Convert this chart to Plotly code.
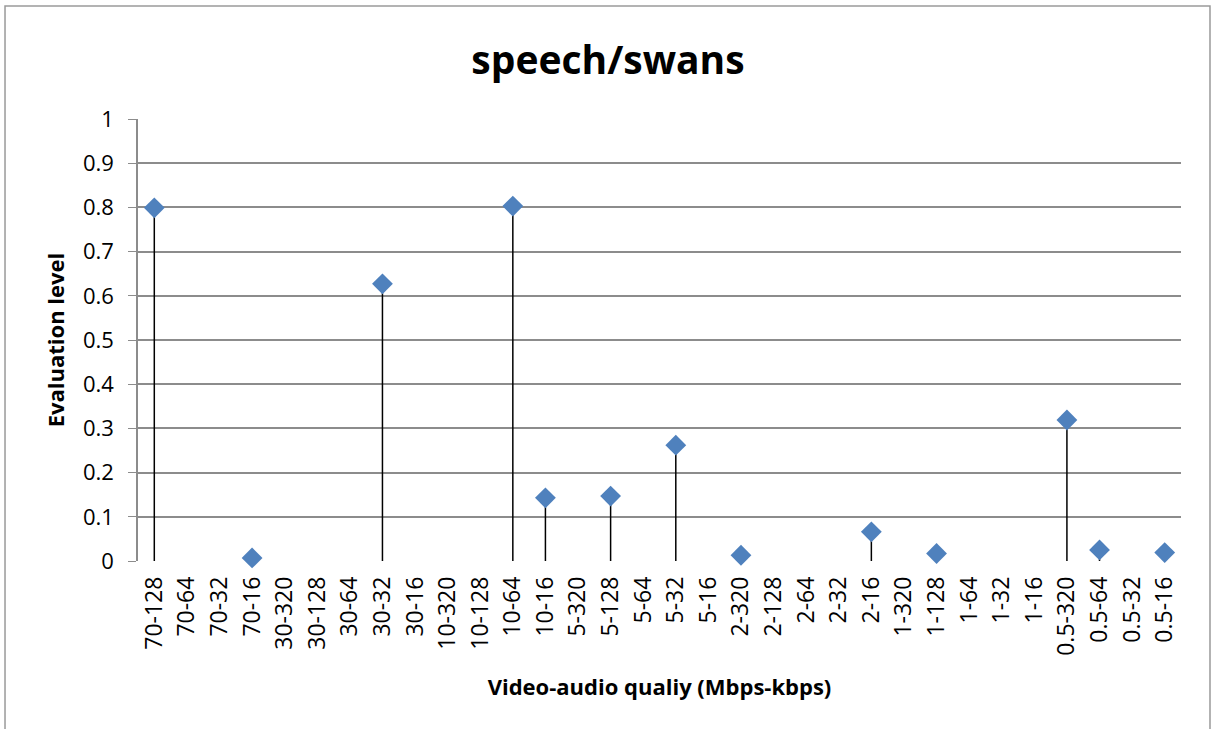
import plotly.graph_objects as go

categories = [
    "70-128", "70-64", "70-32", "70-16",
    "30-320", "30-128", "30-64", "30-32", "30-16",
    "10-320", "10-128", "10-64", "10-16",
    "5-320", "5-128", "5-64", "5-32", "5-16",
    "2-320", "2-128", "2-64", "2-32", "2-16",
    "1-320", "1-128", "1-64", "1-32", "1-16",
    "0.5-320", "0.5-64", "0.5-32", "0.5-16",
]
# None = no point for that setting
values = [
    0.799, None, None, 0.007,
    None, None, None, 0.627, None,
    None, None, 0.803, 0.143,
    None, 0.147, None, 0.262, None,
    0.013, None, None, None, 0.066,
    None, 0.017, None, None, None,
    0.319, 0.025, None, 0.019,
]
y_ticks = [0, 0.1, 0.2, 0.3, 0.4, 0.5, 0.6, 0.7, 0.8, 0.9, 1]

FONT = "Open Sans, Liberation Sans, sans-serif"
BLUE = "#4F81BD"
GRID = "#8c8c8c"

# drop lines from zero to each point
stem_x, stem_y = [], []
for c, v in zip(categories, values):
    if v is None:
        continue
    stem_x += [c, c, None]
    stem_y += [0, v, None]

fig = go.Figure()
fig.add_trace(go.Scatter(
    x=stem_x, y=stem_y, mode="lines",
    line=dict(color="black", width=1.5),
    hoverinfo="skip", showlegend=False,
))
fig.add_trace(go.Scatter(
    x=categories, y=values, mode="markers",
    marker=dict(symbol="diamond", size=16, color=BLUE),
    cliponaxis=False,
    showlegend=False,
))

fig.update_xaxes(
    type="category",
    categoryorder="array",
    categoryarray=categories,
    range=[-0.5, len(categories) - 0.5],
    tickangle=-90,
    tickfont=dict(family=FONT, size=23, color="black"),
    ticklabelstandoff=10,
    showgrid=False,
    showline=False,
    zeroline=False,
    ticks="",
    title=dict(text="<b>Video-audio qualiy (Mbps-kbps)</b>",
               font=dict(family=FONT, size=22, color="black"), standoff=24),
)
fig.update_yaxes(
    range=[0, 1],
    tickvals=y_ticks,
    ticktext=[f"{t:g}" for t in y_ticks],
    tickfont=dict(family=FONT, size=22, color="black"),
    ticklabelstandoff=10,
    showgrid=True, gridcolor=GRID, gridwidth=1.5,
    showline=True, linecolor=GRID, linewidth=1.5,
    ticks="outside", ticklen=8, tickcolor=GRID,
    zeroline=False,
    title=dict(text="<b>Evaluation level</b>",
               font=dict(family=FONT, size=22, color="black"), standoff=12),
)

fig.update_layout(
    width=1216, height=729,
    plot_bgcolor="white", paper_bgcolor="white",
    margin=dict(l=138, r=35, t=119, b=168),
    title=dict(text="<b>speech/swans</b>", x=0.5, xanchor="center",
               y=1 - 60 / 729, yanchor="middle",
               font=dict(family=FONT, size=39, color="black")),
    shapes=[dict(type="rect", xref="paper", yref="paper",
                 x0=-0.1275, x1=1.0278, y0=-0.40, y1=1.2557,
                 line=dict(color="#9a9a9a", width=1.5), layer="below")],
)

fig.write_html("out.html", config={"displayModeBar": False},
               post_script="document.body.style.margin='0';")
